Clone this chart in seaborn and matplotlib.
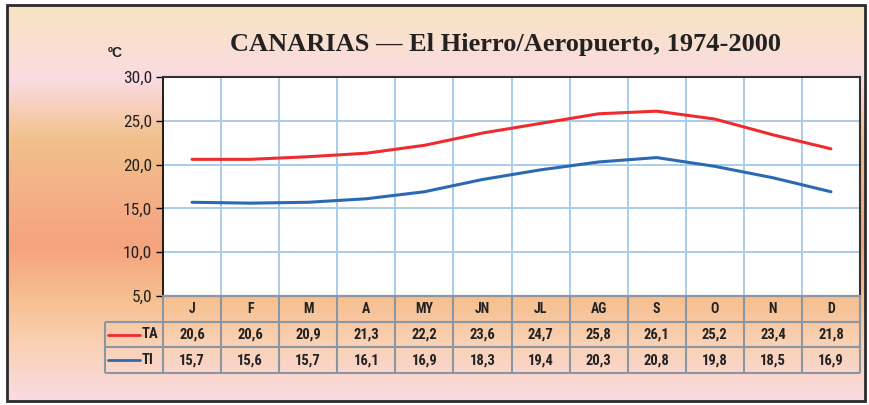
import numpy as np
import pandas as pd
import matplotlib
matplotlib.use("Agg")
import matplotlib.pyplot as plt
import seaborn as sns
from matplotlib.colors import LinearSegmentedColormap
from matplotlib.patches import Rectangle

months = ["J", "F", "M", "A", "MY", "JN", "JL", "AG", "S", "O", "N", "D"]
ta = [20.6, 20.6, 20.9, 21.3, 22.2, 23.6, 24.7, 25.8, 26.1, 25.2, 23.4, 21.8]
ti = [15.7, 15.6, 15.7, 16.1, 16.9, 18.3, 19.4, 20.3, 20.8, 19.8, 18.5, 16.9]
series_names = ["TA", "TI"]
series_colors = ["#ee2b2e", "#2b69b3"]
y_ticks = [5, 10, 15, 20, 25, 30]

df = pd.DataFrame({
    "mes": list(range(12)) * 2,
    "temp": ta + ti,
    "serie": ["TA"] * 12 + ["TI"] * 12,
})

sns.set_style("white")
plt.rcParams["font.family"] = ["Roboto Condensed", "PT Sans Narrow", "DejaVu Sans"]

W, H = 869, 405
fig = plt.figure(figsize=(W / 100, H / 100), dpi=100)

# background gradient inside the frame
bg = fig.add_axes([7 / W, 1 - 401 / H, 858 / W, 396 / H], zorder=0)
stops = [(0.0, "#f6e3c2"), (0.10, "#f9dfd2"), (0.19, "#fbdbe2"),
         (0.34, "#f2c08a"), (0.50, "#f4ae86"), (0.61, "#f5a37e"),
         (0.74, "#f6bf8f"), (0.85, "#f9d0b2"), (1.0, "#fbdbe2")]
cmap = LinearSegmentedColormap.from_list("fondo", stops, N=512)
bg.imshow(np.linspace(0, 1, 512).reshape(-1, 1), cmap=cmap, aspect="auto",
          extent=[0, 1, 1, 0], interpolation="bilinear")
bg.set_axis_off()
fig.patches.append(Rectangle((7 / W, 1 - 401 / H), 858 / W, 396 / H,
                             transform=fig.transFigure, fill=False,
                             edgecolor="#2b2b2b", lw=2, zorder=10))

# main chart
ax = fig.add_axes([163 / W, 1 - 296 / H, 697 / W, 219 / H], zorder=2)
ax.set_facecolor("white")
sns.lineplot(data=df, x="mes", y="temp", hue="serie", palette=series_colors,
             hue_order=series_names, lw=2.2, legend=False, ax=ax)
ax.set_xlim(-0.5, 11.5)
ax.set_ylim(5, 30)
ax.set_xticks(np.arange(-0.5, 12, 1))
ax.set_xticklabels([])
ax.tick_params(axis="x", length=0)
ax.set_yticks(y_ticks)
ax.set_yticklabels([f"{v},0" for v in y_ticks], fontsize=12.5, color="#222")
ax.tick_params(axis="y", length=5, width=1, color="black", pad=3, left=True)
ax.grid(True, color="#a9cce9", lw=1.4)
ax.set_xlabel("")
ax.set_ylabel("")
for s in ["top", "right"]:
    ax.spines[s].set_color("#333333")
    ax.spines[s].set_linewidth(1.5)
ax.spines["left"].set_color("black")
ax.spines["left"].set_linewidth(1.2)
ax.spines["bottom"].set_color("#8a97a3")
ax.spines["bottom"].set_linewidth(1.5)

# data table below
tb = fig.add_axes([(163 - 697 / 12) / W, 1 - 373 / H, (697 * 13 / 12) / W, 77 / H], zorder=2)
tb.set_xlim(-1.5, 11.5)
tb.set_ylim(3, 0)
tb.set_axis_off()
gc = "#8a97a3"
tb.hlines([0], -0.5, 11.5, color=gc, lw=1.5, clip_on=False)
tb.hlines([1, 2, 3], -1.5, 11.5, color=gc, lw=1.5, clip_on=False)
tb.vlines(np.arange(-0.5, 12, 1), 0, 3, color=gc, lw=1.5, clip_on=False)
tb.vlines([-1.5], 1, 3, color=gc, lw=1.5, clip_on=False)
for i, m in enumerate(months):
    tb.text(i, 0.5, m, ha="center", va="center", fontsize=10,
            fontweight="bold", color="#222")
for r, (name, vals, col) in enumerate(zip(series_names, [ta, ti], series_colors)):
    y = r + 1.5
    tb.plot([-1.45, -0.9], [y, y], color=col, lw=2, clip_on=False)
    tb.text(-0.86, y, name, ha="left", va="center", fontsize=10.5,
            fontweight="bold", color="#222")
    for i, v in enumerate(vals):
        tb.text(i, y, f"{v:.1f}".replace(".", ","), ha="center", va="center",
                fontsize=10.5, fontweight="bold", color="#222")

fig.text(506 / W, 1 - 45 / H, "CANARIAS — El Hierro/Aeropuerto, 1974-2000",
         ha="center", va="center", fontsize=19, fontweight="bold",
         family=["Liberation Serif", "DejaVu Serif"], color="#222", zorder=3)
fig.text(115 / W, 1 - 53 / H, "ºC", ha="center", va="center", fontsize=10,
         fontweight="bold", family=["Liberation Sans", "DejaVu Sans"],
         color="#222", zorder=3)

fig.savefig("out.png", dpi=100)
